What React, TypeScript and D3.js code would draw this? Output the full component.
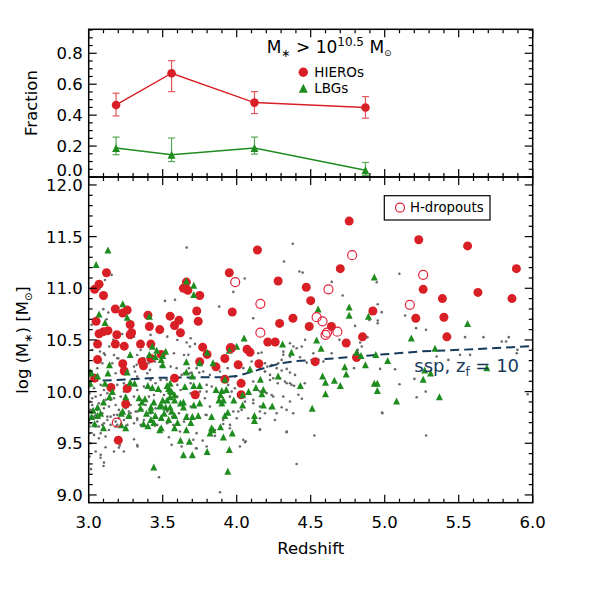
import React from 'react';
import * as d3 from 'd3';

// ---------- top panel: fraction of massive galaxies ----------
const fracZ = [3.185, 3.56, 4.12, 4.87];
const hieroFrac = [0.466, 0.671, 0.481, 0.449];
const hieroLo = [0.395, 0.552, 0.41, 0.38];
const hieroHi = [0.542, 0.752, 0.552, 0.52];
const lbgFrac = [0.187, 0.144, 0.187, 0.043];
const lbgLo = [0.144, 0.1, 0.148, 0.01];
const lbgHi = [0.258, 0.252, 0.258, 0.094];

// ---------- main panel ----------
const sspZ = [3.0, 3.5, 3.9, 4.0, 4.1, 4.2, 4.3, 4.4, 4.6, 4.9, 5.25, 5.6, 6.0];
const sspM = [10.1, 10.135, 10.14, 10.15, 10.19, 10.235, 10.275, 10.295, 10.315, 10.35, 10.39, 10.41, 10.44];

const hieros: [number, number][] = [
  [3.12,11.15],[3.07,11.04],[3.04,10.99],[3.10,10.93],[3.18,10.80],[3.23,10.76],[3.26,10.79],[3.40,10.74],[3.55,10.73],[3.61,10.69],
  [3.64,11.00],[3.66,11.06],[3.67,10.98],[3.75,10.93],[3.73,10.78],[3.74,10.68],[3.95,11.15],[3.97,10.77],[4.14,11.37],[4.28,11.07],
  [4.76,11.65],[4.70,11.19],[5.23,11.47],[5.56,11.41],[5.89,11.19],[4.47,11.01],[4.50,10.88],[5.26,10.99],[5.39,10.90],[5.63,10.96],
  [5.86,10.90],[4.92,10.78],[4.38,10.71],[5.21,10.71],[5.40,10.72],[4.49,10.63],[4.64,10.63],[4.85,10.53],[5.42,10.53],[4.74,10.47],
  [4.29,10.66],[4.53,10.29],[4.81,10.33],
  [3.05,10.68],[3.10,10.58],[3.07,10.56],[3.13,10.59],[3.06,10.46],[3.19,10.55],[3.28,10.55],[3.29,10.57],[3.28,10.65],[3.18,10.46],
  [3.35,10.46],[3.41,10.63],[3.48,10.60],[3.58,10.64],[3.62,10.57],[4.21,10.48],[4.26,10.48],[3.77,10.43],[3.42,10.46],[4.07,10.41],
  [4.09,10.38],[3.06,10.31],[3.23,10.27],[3.36,10.29],[3.37,10.25],[3.42,10.32],[3.75,10.29],[3.80,10.36],[3.92,10.32],[3.86,10.24],
  [4.01,10.26],[4.15,10.27],[3.24,10.20],[3.58,10.13],[3.92,10.12],[3.15,10.04],[4.03,10.08],[4.03,9.97],[3.72,9.97],[3.25,9.88],
  [3.20,9.53],[3.04,10.13],[3.26,10.03],[3.49,10.36],[3.24,10.44],[3.96,10.42],
];

const hDropouts: [number, number][] = [
  [3.99,11.06],[4.16,10.85],[4.78,11.32],[5.26,11.13],[4.62,10.99],[5.17,10.84],[4.54,10.72],[4.58,10.68],
  [4.60,10.55],[4.61,10.57],[4.68,10.58],[4.16,10.57],[3.96,10.42],[3.19,9.70],
];

const lbgs: [number, number][] = [
  [3.13,11.37],[3.05,11.23],[3.07,10.75],[3.23,10.85],[3.26,10.72],[3.41,10.73],[3.66,11.07],[3.71,11.03],[3.71,10.94],[4.93,11.11],
  [4.55,10.80],[4.76,10.82],[4.76,10.74],[4.89,10.73],[5.56,10.66],[4.54,10.50],[4.31,10.46],[4.57,10.42],[4.37,10.38],[5.18,10.52],
  [5.34,10.42],[4.81,10.38],[4.84,10.35],[4.94,10.36],[5.02,10.30],[4.87,10.26],[4.73,10.24],[4.74,10.17],[4.58,10.15],[4.60,10.09],
  [4.66,10.11],[4.70,10.06],[4.43,10.06],[4.93,10.08],[4.95,10.08],[4.95,10.01],[4.60,9.98],[4.51,9.84],[5.08,9.91],[5.27,10.21],
  [5.31,10.18],[5.26,10.12],[5.69,10.23],[5.37,9.95],
  [3.11,10.67],[3.28,10.36],[3.46,10.40],[3.52,10.39],[3.50,10.35],[3.49,10.31],[3.41,10.36],[3.66,10.29],[3.95,10.40],[4.00,10.44],
  [4.05,10.52],[3.80,10.38],[3.02,10.18],[3.28,10.09],[3.03,9.82],[3.02,9.76],[3.66,10.19],[3.40,10.06],[3.43,10.04],[3.47,10.03],
  [3.53,10.06],[3.55,10.01],[3.86,10.02],[3.93,10.02],[4.08,10.00],[4.18,10.02],[4.13,10.04],[3.34,9.94],[3.38,9.93],[3.35,9.84],
  [3.27,9.77],[3.50,9.92],[3.44,9.90],[3.48,9.86],[3.52,9.85],[3.55,9.95],[3.58,9.92],[3.62,9.89],[3.42,9.82],[3.45,9.77],
  [3.49,9.75],[3.54,9.73],[3.58,9.77],[3.64,9.85],[3.66,9.76],[3.70,9.76],[3.74,9.77],[3.37,9.69],[3.40,9.67],[3.44,9.70],
  [3.49,9.65],[3.60,9.70],[3.83,9.76],[3.92,9.77],[3.89,9.66],[3.83,9.65],[3.88,9.92],[3.91,9.92],[3.98,9.92],[4.04,9.87],
  [4.12,9.77],[4.12,9.72],[4.18,9.87],[4.24,9.86],[3.91,9.56],[3.62,9.53],[3.23,9.81],
  [3.06,9.77],[3.42,9.73],[3.51,9.79],[3.56,9.81],[3.48,9.63],[3.58,9.65],[3.66,9.63],[3.69,9.70],[3.22,9.68],[3.25,9.65],
  [3.10,9.65],[3.68,9.52],[3.64,9.39],[3.70,9.39],[3.44,9.27],
  [3.94,9.80],[3.82,9.60],[3.84,9.63],[3.97,9.60],[3.80,9.42],[3.95,9.44],[3.94,9.23],
  [3.14,10.26],[3.13,10.18],[3.26,10.19],[3.43,10.44],[3.45,10.34],[3.50,10.26],[3.55,10.08],[3.54,10.03],[3.56,10.00],[3.53,9.92],
  [3.58,9.97],[3.65,10.05],[3.49,9.87],[3.64,9.90],[3.55,9.85],[3.42,9.85],[3.39,9.79],[3.36,9.90],[3.16,10.00],[3.14,9.95],
  [3.10,9.90],[3.08,9.79],[3.04,9.69],[3.25,9.95],[3.22,9.79],[3.06,9.85],[3.01,10.08],[3.01,10.19],[3.31,10.08],[3.06,10.15],
  [3.11,10.08],
  [3.75,10.28],[3.84,10.28],[4.09,10.22],[4.28,10.15],[4.16,10.12],[3.92,10.12],[3.70,10.15],[3.75,10.06],[3.71,10.06],[3.90,10.01],
  [3.89,9.97],[4.17,9.98],[4.04,9.97],[3.90,9.89],[3.75,9.89],[3.71,9.87],
];

const others: [number, number][] = [
  [3.155,11.13],[3.11,11.08],[3.072,10.994],[3.099,10.798],[3.132,10.765],[3.515,10.878],[3.583,10.888],[3.662,11.394],[3.882,10.823],[4.054,11.094],
  [3.977,10.965],[4.112,10.71],[4.379,11.43],[4.32,11.259],[4.424,11.162],[4.446,11.152],[5.099,11.14],[4.946,11.059],[4.642,11.062],[4.716,10.93],
  [4.953,10.846],[4.98,10.769],[4.953,10.688],[4.953,10.662],[5.138,10.736],[4.80,10.636],[5.212,10.614],[5.279,10.598],[5.667,10.527],[5.791,10.485],
  [5.82,10.485],[5.838,10.527],[5.577,10.356],[5.892,10.372],[4.834,10.475],[4.845,10.436],[4.818,10.404],[4.642,10.372],[4.518,10.372],[4.44,10.436],
  [4.462,10.501],[4.383,10.436],[4.315,10.356],[4.304,10.307],[4.969,10.22],[5.07,10.217],[4.338,10.22],[4.304,10.204],[4.36,10.185],[4.394,10.162],
  [4.293,10.13],[4.338,10.081],[4.388,10.056],[4.417,9.969],[4.44,9.93],[4.46,10.081],[5.216,9.946],[5.277,10.0],[5.201,10.123],[5.1,10.072],
  [4.982,9.798],[4.304,9.849],[4.36,9.904],[4.338,9.614],[4.525,9.575],[5.28,9.575],[5.966,9.975],[4.793,10.227],[4.897,10.694],[4.818,10.378],
  [4.694,10.501],[4.586,10.291],[4.883,10.527],[5.543,10.527],[5.509,10.356],[5.897,10.404],[5.351,10.34],[5.43,10.307],[4.428,10.333],[4.473,10.281],
  [3.02,10.646],[3.121,10.701],[3.166,10.501],[3.139,10.436],[3.076,10.388],[3.11,10.356],[3.2,10.323],[3.223,10.275],[3.324,10.259],[3.369,10.323],
  [3.403,10.275],[3.448,10.291],[3.313,10.194],[3.414,10.21],[3.527,10.114],[3.662,10.475],[3.684,10.436],[3.673,10.356],[3.594,10.227],[3.628,10.162],
  [3.684,10.178],[3.729,10.227],[3.774,10.194],[3.819,10.162],[3.797,10.065],[3.831,10.049],[3.887,10.194],[3.939,10.227],[3.988,10.146],[4.045,10.227],
  [4.101,10.291],[4.191,10.275],[4.157,10.227],[4.191,10.194],[4.225,10.162],[4.27,10.227],[4.247,10.13],[4.277,10.081],[4.112,10.098],[4.157,10.001],
  [4.202,9.985],[4.247,9.952],[4.112,9.92],[4.157,9.856],[4.191,9.791],[4.078,9.743],[4.0,9.743],[3.955,9.678],[3.853,9.572],[3.729,9.598],
  [3.707,9.533],[3.617,9.614],[3.572,9.678],[3.527,9.823],[3.493,9.759],[3.448,9.669],[3.56,9.485],[3.628,9.469],[3.797,9.469],[4.022,9.469],
  [4.157,9.63],
  [3.103,10.565],[3.227,10.558],[3.306,10.532],[3.418,10.549],[3.531,10.532],[3.599,10.5],[3.689,10.516],[3.024,10.403],[3.103,10.371],[3.171,10.355],
  [3.193,10.323],[3.328,10.355],[3.351,10.403],[3.373,10.323],[3.576,10.371],[3.644,10.355],[3.486,10.242],[3.554,10.242],[3.644,10.178],[3.677,10.226],
  [3.058,10.226],[3.092,10.274],[3.159,10.274],[3.182,10.178],[3.306,10.242],[3.328,10.145],[3.396,10.178],[3.418,10.113],[3.452,10.081],[3.486,10.113],
  [3.599,10.065],[3.689,10.081],[3.005,10.049],[3.036,10.032],[3.081,10.065],[3.103,10.016],[3.148,10.049],[3.193,10.065],[3.238,10.081],[3.283,10.032],
  [3.328,10.016],[3.373,10.049],[3.418,10.016],[3.441,9.968],[3.486,10.0],[3.509,9.968],[3.621,10.016],[3.689,9.984],[3.005,9.984],[3.047,9.952],
  [3.081,9.968],[3.126,9.984],[3.171,9.936],[3.216,9.952],[3.261,9.92],[3.306,9.952],[3.351,9.92],[3.385,9.871],[3.441,9.903],[3.509,9.903],
  [3.599,9.952],[3.644,9.839],[3.689,9.855],[3.005,9.903],[3.024,9.871],[3.069,9.887],[3.103,9.839],[3.137,9.855],[3.182,9.871],[3.204,9.823],
  [3.25,9.839],[3.283,9.871],[3.317,9.807],[3.362,9.823],[3.418,9.791],[3.452,9.839],[3.531,9.807],[3.61,9.791],[3.666,9.774],[3.005,9.807],
  [3.013,9.823],[3.047,9.774],[3.092,9.791],[3.126,9.758],[3.171,9.774],[3.204,9.742],[3.238,9.726],[3.283,9.758],[3.328,9.742],[3.373,9.726],
  [3.43,9.71],[3.486,9.742],[3.565,9.758],[3.005,9.726],[3.058,9.71],[3.103,9.694],[3.148,9.678],[3.193,9.678],[3.261,9.678],[3.306,9.694],
  [3.351,9.678],[3.463,9.678],[3.531,9.694],[3.644,9.71],[3.005,9.662],[3.036,9.758],[3.069,9.662],[3.216,9.791],[3.272,9.807],[3.34,9.871],
  [3.407,9.952],[3.238,10.0],[3.148,9.92],[3.114,9.92],[3.024,9.936],[3.058,9.823],[3.182,9.71],
  [3.047,9.42],[3.081,9.388],[3.103,9.313],[3.171,9.42],[3.238,9.42],[3.204,9.458],[3.114,9.462],[3.069,9.549],[3.306,9.539],[3.328,9.484],
  [3.475,9.171],[3.542,9.558],[3.013,9.694],[3.047,9.662],[3.092,9.678],[3.126,9.726],[3.148,9.758],[3.193,9.775],[3.283,9.791],[3.328,9.807],
  [3.005,9.597],[3.036,9.581],[3.081,9.597],[3.114,9.565],[3.013,9.5],[3.005,9.371],[3.137,9.629],[3.182,9.662],[3.328,9.726],
  [3.718,10.462],[3.695,10.184],[3.747,10.184],[3.752,10.0],[3.797,10.0],[3.785,9.936],[3.819,9.855],[3.943,10.065],[3.966,10.0],[3.954,9.952],
  [3.988,10.032],[4.056,9.903],[4.112,9.887],[4.146,10.371],[4.168,10.378],[4.191,10.194],[4.207,10.242],[4.236,10.258],[4.281,10.274],[4.225,10.113],
  [4.326,10.097],[4.36,10.081],[4.315,9.952],[4.337,9.823],[4.371,10.065],[4.236,9.968],[4.225,9.839],[4.258,9.726],[3.909,9.726],[3.797,9.774],
  [3.977,9.807],[4.011,9.807],[4.157,9.807],[4.382,9.791],[4.315,10.387],[4.36,10.468],[4.405,10.42],[4.36,10.339],
  [3.79,9.775],[3.909,9.687],[3.954,9.646],[3.853,9.629],[4.044,9.533],[4.056,9.51],[4.157,9.636],[4.157,9.742],[4.27,9.791],[4.337,9.607],
  [4.405,9.3],[3.77,9.526],[3.725,9.452],[3.887,9.026],[4.033,9.823],[4.984,9.79],
  [3.08,9.36],[3.10,9.28],[3.015,9.25],[3.73,9.45],[4.06,9.52],[3.21,9.48],[3.33,9.47],
];

// ---------- axis tick values ----------
const xMajorTicks = [3.0, 3.5, 4.0, 4.5, 5.0, 5.5, 6.0];
const massMajorTicks = [9.0, 9.5, 10.0, 10.5, 11.0, 11.5, 12.0];
const fracMajorTicks = [0.0, 0.2, 0.4, 0.6, 0.8];

const RED = '#d91f26';
const GREEN = '#1f8c1f';
const OPEN = '#e3223d';
const NAVY = '#163a5c';
const FONT = 'DejaVu Sans, sans-serif';

const L = 88.7, R = 532.7;
const TOP_T = 29.3, TOP_B = 177, MAIN_T = 177, MAIN_B = 502.7;

function tri(cx: number, cy: number, s: number) {
  return `M${cx},${cy - s / 2}L${cx + s / 2},${cy + s / 2}L${cx - s / 2},${cy + s / 2}Z`;
}

function Frame({ y, top, bottom, majorY, minorY, fmt, labelShift }: any) {
  const x = d3.scaleLinear().domain([3, 6]).range([L, R]);
  const xMinor = d3.range(30, 61).map((v) => v / 10);
  const maj = 8, min = 4;
  const els: any[] = [];
  xMinor.forEach((v, i) => {
    const isMaj = Math.abs(v * 2 - Math.round(v * 2)) < 1e-6;
    const len = isMaj ? maj : min;
    const px = x(v);
    els.push(<line key={'xb' + i} x1={px} x2={px} y1={bottom} y2={bottom - len} />);
    els.push(<line key={'xt' + i} x1={px} x2={px} y1={top} y2={top + len} />);
  });
  minorY.forEach((v: number, i: number) => {
    const isMaj = majorY.some((m: number) => Math.abs(m - v) < 1e-6);
    const len = isMaj ? maj : min;
    const py = y(v);
    if (py < top - 0.5 || py > bottom + 0.5) return;
    els.push(<line key={'yl' + i} x1={L} x2={L + len} y1={py} y2={py} />);
    els.push(<line key={'yr' + i} x1={R} x2={R - len} y1={py} y2={py} />);
  });
  return (
    <g>
      <g stroke="#000" strokeWidth={1.2}>{els}</g>
      <rect x={L} y={top} width={R - L} height={bottom - top} fill="none" stroke="#000" strokeWidth={1.5} />
      <g fontFamily={FONT} fontSize={16.5} textAnchor="end">
        {majorY.map((v: number, i: number) => (
          <text key={'lab' + i} x={L - 6} y={y(v) + (labelShift ? labelShift(v) : 0)} dy="0.36em">{fmt(v)}</text>
        ))}
      </g>
    </g>
  );
}

export default function App() {
  const x = d3.scaleLinear().domain([3, 6]).range([L, R]);
  const yTop = d3.scaleLinear().domain([0, 0.955]).range([TOP_B, TOP_T]);
  const yMain = d3.scaleLinear().domain([8.925, 12.077]).range([MAIN_B, MAIN_T]);
  const fmt1 = d3.format('.1f');

  const sspLine = d3.line<number>().x((d, i) => x(sspZ[i])).y((d) => yMain(d))(sspM) || '';
  const hieroLine = d3.line<number>().x((d, i) => x(fracZ[i])).y((d) => yTop(d))(hieroFrac) || '';
  const lbgLine = d3.line<number>().x((d, i) => x(fracZ[i])).y((d) => yTop(d))(lbgFrac) || '';

  const fracMinor = d3.range(0, 20).map((v) => v * 0.05);
  const massMinor = d3.range(89, 121).map((v) => v / 10);

  return (
    <svg width={592} height={592} style={{ position: 'absolute', left: 0, top: 0, background: '#fff' }}>
      <rect x={0} y={0} width={592} height={592} fill="#fff" />
      <defs>
        <clipPath id="mainClip"><rect x={L} y={MAIN_T} width={R - L} height={MAIN_B - MAIN_T} /></clipPath>
        <clipPath id="topClip"><rect x={L} y={TOP_T} width={R - L} height={TOP_B - TOP_T} /></clipPath>
      </defs>

      {/* ---- top panel ---- */}
      <g clipPath="url(#topClip)">
        <path d={hieroLine} fill="none" stroke={RED} strokeWidth={1.5} />
        <path d={lbgLine} fill="none" stroke={GREEN} strokeWidth={1.5} />
        {fracZ.map((z, i) => (
          <g key={'he' + i} stroke={RED} strokeWidth={1.2} opacity={0.75}>
            <line x1={x(z)} x2={x(z)} y1={yTop(hieroLo[i])} y2={yTop(hieroHi[i])} />
            <line x1={x(z) - 3.5} x2={x(z) + 3.5} y1={yTop(hieroLo[i])} y2={yTop(hieroLo[i])} />
            <line x1={x(z) - 3.5} x2={x(z) + 3.5} y1={yTop(hieroHi[i])} y2={yTop(hieroHi[i])} />
          </g>
        ))}
        {fracZ.map((z, i) => (
          <g key={'le' + i} stroke={GREEN} strokeWidth={1.2} opacity={0.75}>
            <line x1={x(z)} x2={x(z)} y1={yTop(lbgLo[i])} y2={yTop(lbgHi[i])} />
            <line x1={x(z) - 3.5} x2={x(z) + 3.5} y1={yTop(lbgLo[i])} y2={yTop(lbgLo[i])} />
            <line x1={x(z) - 3.5} x2={x(z) + 3.5} y1={yTop(lbgHi[i])} y2={yTop(lbgHi[i])} />
          </g>
        ))}
        {fracZ.map((z, i) => (
          <circle key={'hp' + i} cx={x(z)} cy={yTop(hieroFrac[i])} r={4.3} fill={RED} />
        ))}
        {fracZ.map((z, i) => (
          <path key={'lp' + i} d={tri(x(z), yTop(lbgFrac[i]), 8)} fill={GREEN} />
        ))}
      </g>
      <Frame y={yTop} top={TOP_T} bottom={TOP_B} majorY={fracMajorTicks} minorY={fracMinor} fmt={fmt1}
        labelShift={(v: number) => (v === 0 ? -6.5 : 0)} />
      <g fontFamily={FONT}>
        <text x={266.7} y={53.3} fontSize={17}>
          <tspan>M</tspan><tspan fontSize={11} dy={4}>∗</tspan>
          <tspan dy={-4}> &gt; 10</tspan><tspan fontSize={12} dy={-7}>10.5</tspan>
          <tspan dy={7}> M</tspan><tspan fontSize={9} dy={3}>⊙</tspan>
        </text>
        <circle cx={303.3} cy={72.3} r={4.7} fill={RED} />
        <text x={314.3} y={77.2} fontSize={13.5}>HIEROs</text>
        <path d={tri(303.3, 88.3, 9)} fill={GREEN} />
        <text x={314.3} y={93.2} fontSize={13.5}>LBGs</text>
      </g>
      <text transform="translate(31,103) rotate(-90)" textAnchor="middle" dy="0.35em" fontFamily={FONT} fontSize={16.5}>Fraction</text>

      {/* ---- main panel ---- */}
      <g clipPath="url(#mainClip)">
        {others.map((d, i) => (
          <circle key={'g' + i} cx={x(d[0])} cy={yMain(d[1])} r={1.3} fill="#6a6a6a" />
        ))}
        <path d={sspLine} fill="none" stroke={NAVY} strokeWidth={2} strokeDasharray="9,5" />
        {hieros.map((d, i) => (
          <circle key={'r' + i} cx={x(d[0])} cy={yMain(d[1])} r={4.5} fill={RED} />
        ))}
        {lbgs.map((d, i) => (
          <path key={'t' + i} d={tri(x(d[0]), yMain(d[1]), 7)} fill={GREEN} />
        ))}
        {hDropouts.map((d, i) => (
          <circle key={'o' + i} cx={x(d[0])} cy={yMain(d[1])} r={4.5} fill="none" stroke={OPEN} strokeWidth={1.2} />
        ))}
      </g>
      <text x={414.3} y={371.7} fontFamily={FONT} fontSize={18} fill={NAVY}>
        <tspan>ssp, z</tspan><tspan fontSize={12} dy={4}>f</tspan><tspan dy={-4}> = 10</tspan>
      </text>
      <g>
        <rect x={384.3} y={195.7} width={105.7} height={24.3} fill="#fff" stroke="#000" strokeWidth={1.2} />
        <circle cx={400} cy={207.6} r={4.5} fill="none" stroke={OPEN} strokeWidth={1.2} />
        <text x={410} y={212.4} fontFamily={FONT} fontSize={13.3}>H-dropouts</text>
      </g>
      <Frame y={yMain} top={MAIN_T} bottom={MAIN_B} majorY={massMajorTicks} minorY={massMinor} fmt={fmt1} />
      <g fontFamily={FONT} fontSize={16.5} textAnchor="middle">
        {xMajorTicks.map((v, i) => (
          <text key={'xl' + i} x={x(v)} y={528}>{fmt1(v)}</text>
        ))}
        <text x={(L + R) / 2} y={554}>Redshift</text>
      </g>
      <text transform="translate(22,340) rotate(-90)" textAnchor="middle" dy="0.35em" fontFamily={FONT} fontSize={16.5}>
        <tspan>log (M</tspan><tspan fontSize={11} dy={4}>∗</tspan><tspan dy={-4}>) [M</tspan><tspan fontSize={10} dy={4}>⊙</tspan><tspan dy={-4}>]</tspan>
      </text>
    </svg>
  );
}
